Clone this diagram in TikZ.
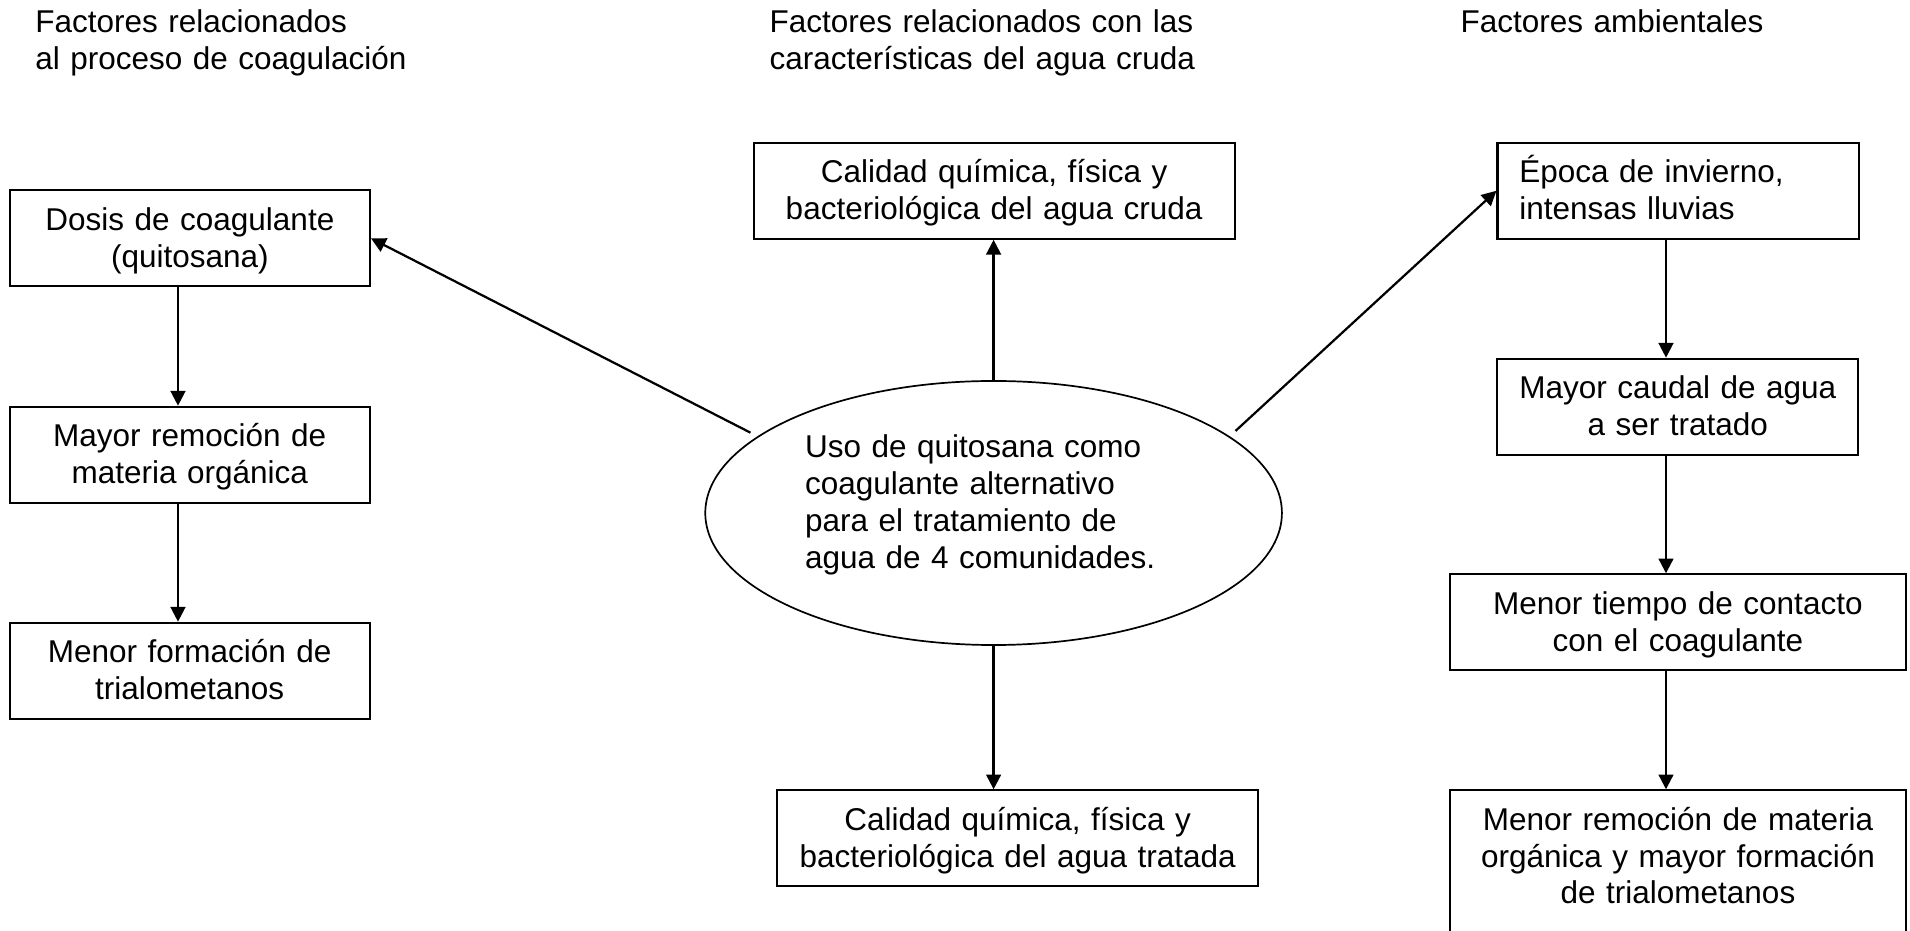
\documentclass[tikz,border=0pt]{standalone}
\usepackage{fontspec}
\setmainfont{Liberation Sans}
\usepackage{tikz}
\usetikzlibrary{arrows.meta,shapes.geometric}

\begin{document}
\begin{tikzpicture}[x=0.381pt,y=-0.381pt,
		every node/.style={font=\fontsize{12}{14}\selectfont},
		titulo/.style={anchor=base west,inner sep=0pt,text width=200pt,align=left},
		caja/.style={draw,line width=0.8pt,anchor=north,inner xsep=4pt,inner ysep=0pt,
			text height=15.24pt,text depth=21.34pt,align=center},
		flecha/.style={line width=0.85pt,-{Triangle[length=5.6pt,width=5.6pt]}}]
			% 固定边界
			\useasboundingbox (0,0) rectangle (1910,931);

			% 三个标题
			\node[titulo] (tit1) at (34.8,32.3) {Factores relacionados\\al proceso de coagulación};
			\node[titulo] (tit2) at (769,32.3) {Factores relacionados con las\\características del agua cruda};
			\node[titulo] (tit3) at (1460,32.3) {Factores ambientales};

			% 中间椭圆
			\node[draw,ellipse,line width=0.65pt,minimum width=219.7pt,minimum height=100.6pt,inner sep=0pt] (uso) at (993.6,513) {};
			\node[anchor=base west,inner sep=0pt,text width=140pt,align=left] (usotexto) at (804.5,458)
				{Uso de quitosana como\\coagulante alternativo\\para el tratamiento de\\agua de 4 comunidades.};

			% 左列
			\node[caja,text width=129.2pt] (dosis) at (189.9,189.3) {Dosis de coagulante\\(quitosana)};
			\node[caja,text width=129.2pt] (mayor) at (189.7,405.7) {Mayor remoción de\\materia orgánica};
			\node[caja,text width=129.2pt] (menorf) at (189.7,621.7) {Menor formación de\\trialometanos};

			% 中列
			\node[caja,text width=175.3pt] (cruda) at (994.1,141.7) {Calidad química, física y\\bacteriológica del agua cruda};
			\node[caja,text width=175.3pt] (tratada) at (1017.7,789.3) {Calidad química, física y\\bacteriológica del agua tratada};

			% 右列
			\node[caja,align=left,inner xsep=8.3pt,text width=121pt] (epoca) at (1678.1,141.7) {Época de invierno,\\intensas lluvias};
			\node[caja,text width=129.6pt] (caudal) at (1677.8,357.7) {Mayor caudal de agua\\a ser tratado};
			\node[caja,text width=165.8pt] (tiempo) at (1677.9,573.3) {Menor tiempo de contacto\\con el coagulante};
			\node[caja,text width=165.7pt,text depth=60pt] (menorr) at (1678,789.3) {Menor remoción de materia\\orgánica y mayor formación\\de trialometanos};

			% 竖线的位置
			\coordinate (ejeI) at (178,0);
			\coordinate (ejeD) at (1666,0);

			% 箭头
			\draw[flecha] (uso.north) -- (uso.north |- cruda.south);
			\draw[flecha] (uso.south) -- (uso.south |- tratada.north);
			\draw[flecha,shorten <=3pt] (uso.162) -- (dosis.east);
			\draw[flecha,shorten <=3pt] (uso.18) -- (epoca.west);
			\draw[flecha] (dosis.south -| ejeI) -- (mayor.north -| ejeI);
			\draw[flecha] (mayor.south -| ejeI) -- (menorf.north -| ejeI);
			\draw[flecha] (epoca.south -| ejeD) -- (caudal.north -| ejeD);
			\draw[flecha] (caudal.south -| ejeD) -- (tiempo.north -| ejeD);
			\draw[flecha] (tiempo.south -| ejeD) -- (menorr.north -| ejeD);
		\end{tikzpicture}
\end{document}
